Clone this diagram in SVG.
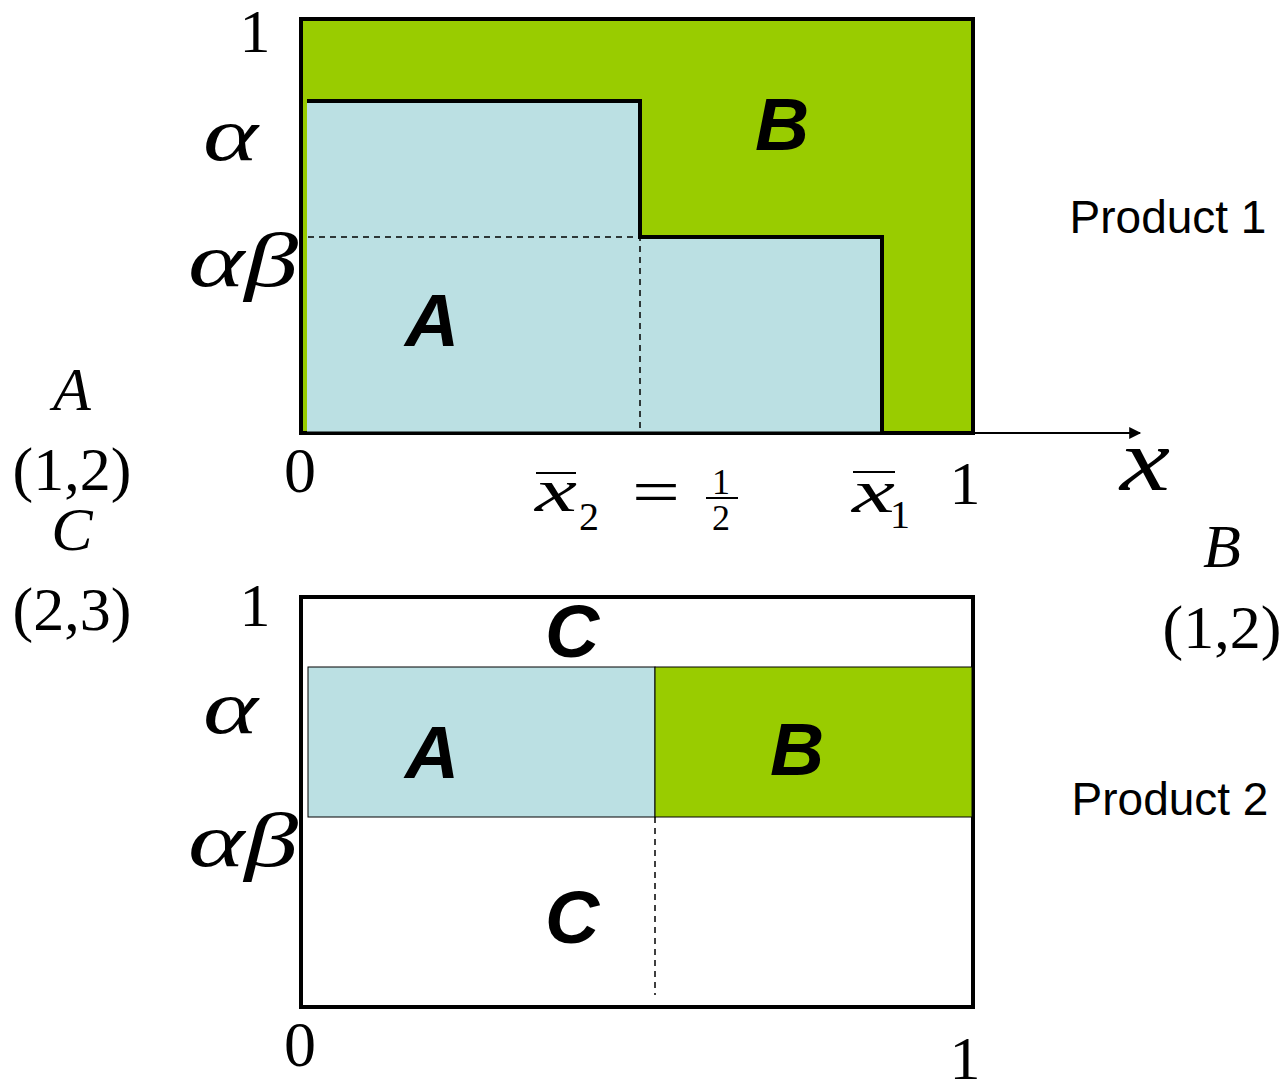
<svg xmlns="http://www.w3.org/2000/svg" width="1287" height="1081" viewBox="0 0 1287 1081">
<style>
.m{font-family:"Liberation Serif",serif;fill:#000}
.i{font-style:italic}
.g{font-family:"Liberation Sans",Arial,sans-serif;font-weight:bold;font-style:italic;fill:#000}
.p{font-family:"Liberation Sans",Arial,sans-serif;fill:#000}
</style>
<defs>
<marker id="ah" viewBox="0 0 10 10" refX="9" refY="5" markerWidth="16" markerHeight="12" markerUnits="userSpaceOnUse" orient="auto"><path d="M0,0L10,5L0,10z" fill="#000"/></marker>
</defs>
<rect width="1287" height="1081" fill="#fff"/>
<g id="top-chart">
<rect x="301" y="19" width="672" height="414" fill="#99CC00" stroke="#000" stroke-width="4"/>
<path d="M307,101 H640 V237 H882 V433 H307 Z" fill="#BBE0E3"/>
<path d="M307,101 H640 V237 H882 V433" fill="none" stroke="#000" stroke-width="4"/>
<line x1="303" y1="433" x2="973" y2="433" stroke="#000" stroke-width="3"/>
<path d="M308,237 H640 V433" fill="none" stroke="#000" stroke-width="1.5" stroke-dasharray="6,5"/>
</g>
<g id="connectors">
<line x1="973" y1="433" x2="1140" y2="433" stroke="#000" stroke-width="2" marker-end="url(#ah)"/>
</g>
<g id="bottom-chart">
<rect x="301" y="597" width="672" height="410" fill="#fff" stroke="#000" stroke-width="4"/>
<rect x="308" y="667" width="347" height="150" fill="#BBE0E3" stroke="#000" stroke-width="1"/>
<rect x="655" y="667" width="317" height="150" fill="#99CC00" stroke="#000" stroke-width="1"/>
<line x1="655" y1="817" x2="655" y2="995" stroke="#000" stroke-width="1.5" stroke-dasharray="6,5"/>
</g>
<g id="labels-top">
<text class="m" x="255" y="52" font-size="62" text-anchor="middle">1</text>
<text class="m i" x="203" y="160" font-size="76" textLength="55" lengthAdjust="spacingAndGlyphs">α</text>
<text class="m i" x="188" y="286" font-size="76" textLength="110" lengthAdjust="spacingAndGlyphs">αβ</text>
<text class="m" x="300" y="492" font-size="64" text-anchor="middle">0</text>
<text class="m i" x="535" y="511" font-size="62" textLength="42" lengthAdjust="spacingAndGlyphs">x</text>
<line x1="536" y1="473" x2="576" y2="473" stroke="#000" stroke-width="2"/>
<text class="m" x="589" y="530" font-size="40" text-anchor="middle">2</text>
<text class="m" x="632" y="513" font-size="64" textLength="48" lengthAdjust="spacingAndGlyphs">=</text>
<text class="m" x="721" y="494" font-size="36" text-anchor="middle">1</text>
<line x1="706" y1="498" x2="738" y2="498" stroke="#000" stroke-width="2"/>
<text class="m" x="721" y="530" font-size="36" text-anchor="middle">2</text>
<text class="m i" x="852" y="512" font-size="62" textLength="43" lengthAdjust="spacingAndGlyphs">x</text>
<line x1="853" y1="472" x2="895" y2="472" stroke="#000" stroke-width="2"/>
<text class="m" x="900" y="528" font-size="40" text-anchor="middle">1</text>
<text class="m" x="965" y="504" font-size="62" text-anchor="middle">1</text>
<text class="m i" x="1120" y="490" font-size="88" textLength="50" lengthAdjust="spacingAndGlyphs">x</text>
<text class="g" x="782" y="150" font-size="75" text-anchor="middle">B</text>
<text class="g" x="432" y="346" font-size="75" text-anchor="middle">A</text>
<text class="p" x="1168" y="233" font-size="46" text-anchor="middle">Product 1</text>
</g>
<g id="labels-side">
<text class="m i" x="72" y="410" font-size="62" text-anchor="middle">A</text>
<text class="m" x="72" y="490" font-size="62" text-anchor="middle">(1,2)</text>
<text class="m i" x="72" y="550" font-size="62" text-anchor="middle">C</text>
<text class="m" x="72" y="630" font-size="62" text-anchor="middle">(2,3)</text>
<text class="m i" x="1222" y="567" font-size="62" text-anchor="middle">B</text>
<text class="m" x="1222" y="648" font-size="62" text-anchor="middle">(1,2)</text>
</g>
<g id="labels-bottom">
<text class="m" x="255" y="626" font-size="62" text-anchor="middle">1</text>
<text class="g" x="572" y="657" font-size="75" text-anchor="middle">C</text>
<text class="m i" x="203" y="733" font-size="76" textLength="55" lengthAdjust="spacingAndGlyphs">α</text>
<text class="g" x="432" y="778" font-size="75" text-anchor="middle">A</text>
<text class="g" x="797" y="775" font-size="75" text-anchor="middle">B</text>
<text class="m i" x="188" y="866" font-size="76" textLength="110" lengthAdjust="spacingAndGlyphs">αβ</text>
<text class="g" x="572" y="943" font-size="75" text-anchor="middle">C</text>
<text class="p" x="1170" y="815" font-size="46" text-anchor="middle">Product 2</text>
<text class="m" x="300" y="1066" font-size="64" text-anchor="middle">0</text>
<text class="m" x="965" y="1079" font-size="62" text-anchor="middle">1</text>
</g>
</svg>
